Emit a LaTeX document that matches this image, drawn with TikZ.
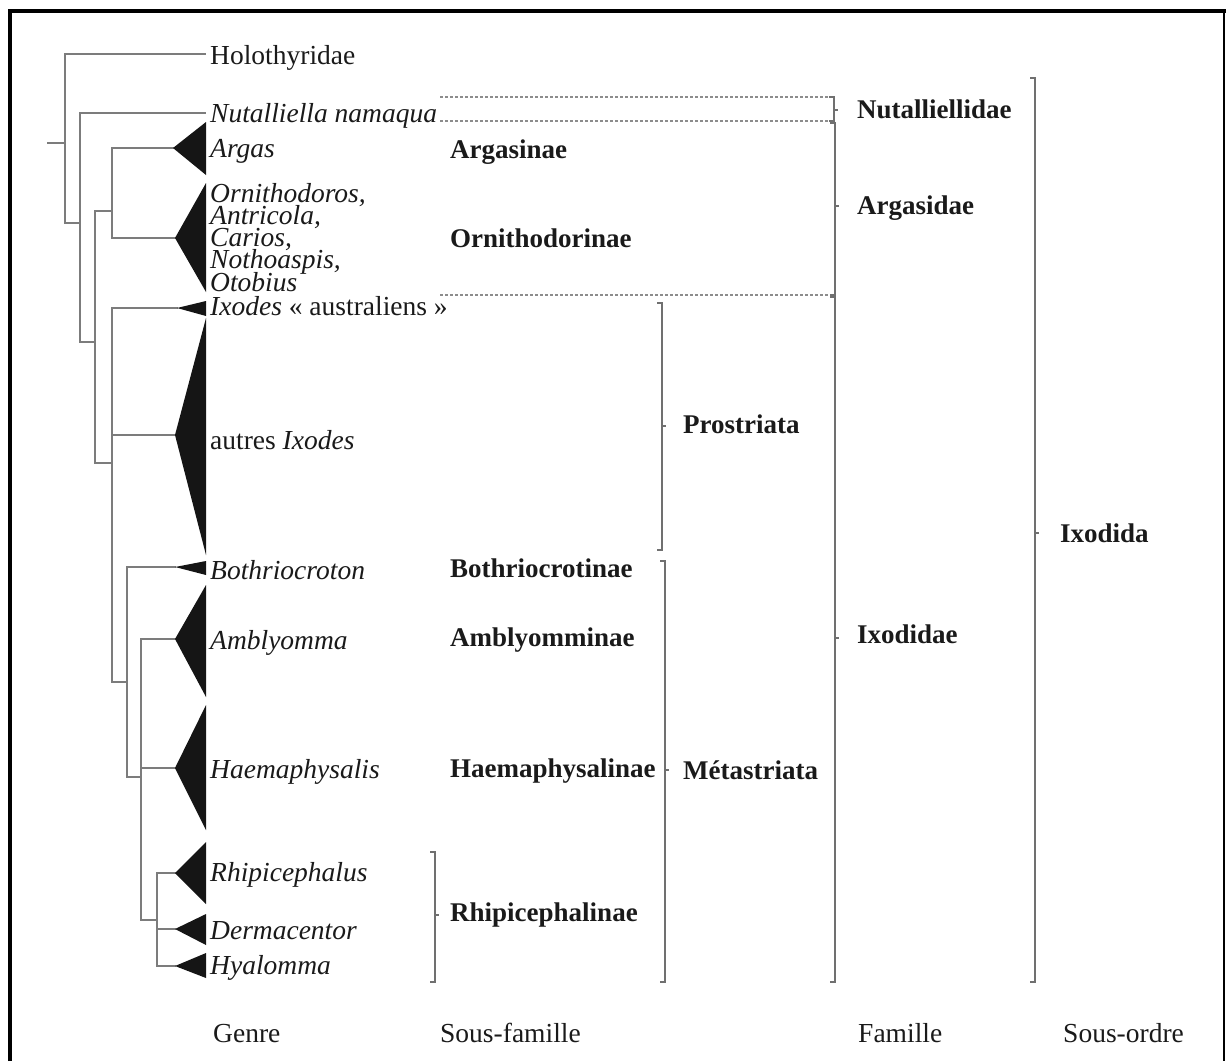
\documentclass[tikz,border=0pt]{standalone}
\usepackage{fontspec}
\setmainfont{Liberation Serif}
\definecolor{treecol}{HTML}{7C7C7C}
\definecolor{brkcol}{HTML}{707070}
\definecolor{txtcol}{HTML}{1A1A1A}
\definecolor{tricol}{HTML}{151515}
\definecolor{dotcol}{HTML}{8C8C8C}
\tikzset{
  tree/.style={draw=treecol, line width=2pt, line cap=rect},
  brk/.style={draw=brkcol, line width=1.8pt},
  tri/.style={fill=tricol},
  lab/.style={anchor=base west, inner sep=0pt, text=txtcol, font=\fontsize{27.5}{22}\selectfont},
  itl/.style={lab, font=\fontsize{27.5}{22}\selectfont\itshape},
  bfl/.style={lab, font=\fontsize{27}{22}\selectfont\bfseries},
  dotln/.style={draw=dotcol, line width=1.6pt, dash pattern=on 3pt off 2pt},
}
\newcommand\cladetri[3]{\fill[tri] (#1) -- (206,#2) -- (206,#3) -- cycle;}
\newcommand\grpbrk[4]{%
  \draw[brk] (#1-5,#2) -- (#1,#2) -- (#1,#3) -- (#1-5,#3);
  \draw[brk] (#1,#4) -- (#1+4,#4);}
\begin{document}
\begin{tikzpicture}[x=1pt, y=-1pt]
\useasboundingbox (0,0) rectangle (1226,1061);
% frame
\draw[line width=4pt] (9.5,1061) -- (9.5,10.5) -- (1226,10.5);
\draw[line width=2pt] (1224,10.5) -- (1224,1061);

% triangle tips
\coordinate (tArg) at (173,148);
\coordinate (tOrn) at (175,238);
\coordinate (tIxa) at (177,308);
\coordinate (tIxo) at (175,435);
\coordinate (tBot) at (175,567);
\coordinate (tAmb) at (175,639);
\coordinate (tHae) at (175,768);
\coordinate (tRhi) at (175,873);
\coordinate (tDer) at (175,929);
\coordinate (tHya) at (175,966);

% tree
\coordinate (r0) at (48,143); \coordinate (r1) at (65,143);
\draw[tree] (r0) -- (r1);
\coordinate (hA) at (65,54); \coordinate (hB) at (205,54);
\coordinate (a1) at (65,223); \coordinate (a2) at (80,223);
\draw[tree] (hB) -- (hA) -- (a1) -- (a2);
\coordinate (nA) at (80,113); \coordinate (nB) at (205,113);
\coordinate (b1) at (80,342); \coordinate (b2) at (95,342);
\draw[tree] (nB) -- (nA) -- (b1) -- (b2);
\coordinate (c1) at (95,211); \coordinate (c2) at (112,211);
\coordinate (c3) at (95,463); \coordinate (c4) at (112,463);
\draw[tree] (c2) -- (c1) -- (c3) -- (c4);
\coordinate (dA) at (112,148); \coordinate (dO) at (112,238);
\draw[tree] (tArg) -- (dA) -- (dO) -- (tOrn);
\coordinate (eA) at (112,308); \coordinate (eB) at (112,435);
\coordinate (eC) at (112,682); \coordinate (eD) at (127,682);
\draw[tree] (tIxa) -- (eA) -- (eC) -- (eD);
\draw[tree] (eB) -- (tIxo);
\coordinate (fA) at (127,567); \coordinate (fB) at (127,777); \coordinate (fC) at (141,777);
\draw[tree] (tBot) -- (fA) -- (fB) -- (fC);
\coordinate (gA) at (141,639); \coordinate (gB) at (141,768);
\coordinate (gC) at (141,920); \coordinate (gD) at (157,920);
\draw[tree] (tAmb) -- (gA) -- (gC) -- (gD);
\draw[tree] (gB) -- (tHae);
\coordinate (kA) at (157,873); \coordinate (kB) at (157,929); \coordinate (kC) at (157,966);
\draw[tree] (tRhi) -- (kA) -- (kC) -- (tHya);
\draw[tree] (kB) -- (tDer);

% clade triangles
\cladetri{tArg}{122}{175}
\cladetri{tOrn}{183}{292}
\cladetri{tIxa}{301}{316}
\cladetri{tIxo}{318}{555}
\cladetri{tBot}{561}{575}
\cladetri{tAmb}{585}{697}
\cladetri{tHae}{705}{830}
\cladetri{tRhi}{842}{904}
\cladetri{tDer}{914}{945}
\cladetri{tHya}{953}{978}

% genus labels
\node[lab] (holo) at (210,64) {Holothyridae};
\node[itl] (nuta) at (210,122) {Nutalliella namaqua};
\node[itl] (arg) at (210,157) {Argas};
\node[itl] (orn1) at (210,202) {Ornithodoros,};
\node[itl] (orn2) at (210,224.2) {Antricola,};
\node[itl] (orn3) at (210,246.6) {Carios,};
\node[itl] (orn4) at (210,268.8) {Nothoaspis,};
\node[itl] (orn5) at (210,291) {Otobius};
\node[lab] (ixa) at (210,315) {\textit{Ixodes} « australiens »};
\node[lab] (ixo) at (210,449) {autres \textit{Ixodes}};
\node[itl] (bot) at (210,579) {Bothriocroton};
\node[itl] (amb) at (210,649) {Amblyomma};
\node[itl] (hae) at (210,778) {Haemaphysalis};
\node[itl] (rhi) at (210,881) {Rhipicephalus};
\node[itl] (der) at (210,939) {Dermacentor};
\node[itl] (hya) at (210,974) {Hyalomma};

% dotted separators
\coordinate (d1a) at (440,97);  \coordinate (d1b) at (828,97);
\coordinate (d2a) at (440,121); \coordinate (d2b) at (828,121);
\coordinate (d3a) at (440,295); \coordinate (d3b) at (828,295);
\draw[dotln] (d1a) -- (d1b);
\draw[dotln] (d2a) -- (d2b);
\draw[dotln] (d3a) -- (d3b);

% sub-family labels
\node[bfl] (sfArg) at (450,158) {Argasinae};
\node[bfl] (sfOrn) at (450,247) {Ornithodorinae};
\node[bfl] (sfBot) at (450,577) {Bothriocrotinae};
\node[bfl] (sfAmb) at (450,646) {Amblyomminae};
\node[bfl] (sfHae) at (450,777) {Haemaphysalinae};
\node[bfl] (sfRhi) at (450,921) {Rhipicephalinae};

% brackets
\grpbrk{435}{852}{982}{915}
\grpbrk{662}{303}{550}{426}
\grpbrk{665}{561}{982}{770}
\grpbrk{834}{97}{121}{110}
\grpbrk{835}{123}{295}{206}
\grpbrk{835}{297}{982}{638}
\grpbrk{1035}{78}{982}{533}

% group labels
\node[bfl] (pro) at (683,433) {Prostriata};
\node[bfl] (met) at (683,779) {Métastriata};
\node[bfl] (fNut) at (857,118) {Nutalliellidae};
\node[bfl] (fArg) at (857,214) {Argasidae};
\node[bfl] (fIxo) at (857,643) {Ixodidae};
\node[bfl] (so) at (1060,542) {Ixodida};

% column heads
\node[lab] (hGen) at (213,1042) {Genre};
\node[lab] (hSf) at (440,1042) {Sous-famille};
\node[lab] (hFam) at (858,1042) {Famille};
\node[lab] (hSo) at (1063,1042) {Sous-ordre};
\end{tikzpicture}
\end{document}
